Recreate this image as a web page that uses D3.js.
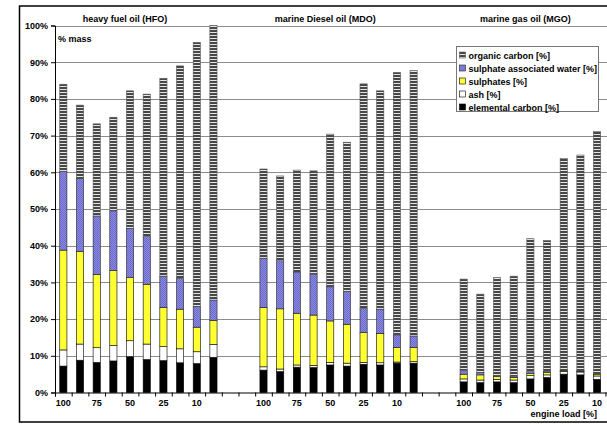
<!DOCTYPE html>
<html>
<head>
<meta charset="utf-8">
<script src="https://cdn.jsdelivr.net/npm/d3@7"></script>
<style>
body { margin: 0; background: #fff; }
text { font-family: Arial, "Liberation Sans", sans-serif; font-weight: bold; font-size: 9px; fill: #000; }
</style>
</head>
<body>
<svg id="chart" width="607" height="425"></svg>
<script>
// one group of bars per fuel, 10 measurements each (two per engine load)
const fuels = ['heavy fuel oil (HFO)', 'marine Diesel oil (MDO)', 'marine gas oil (MGO)'];
const loads = ['100', '100', '75', '75', '50', '50', '25', '25', '10', '10'];
const components = ['elemental carbon [%]', 'ash [%]', 'sulphates [%]', 'sulphate associated water [%]', 'organic carbon [%]'];
const yTicks = [0, 10, 20, 30, 40, 50, 60, 70, 80, 90, 100];

// % mass per component, [HFO, MDO, MGO]; last MGO bar is outside the picture
const elementalCarbon = [
    [7.2, 8.8, 8.2, 8.6, 9.8, 9.0, 8.7, 8.1, 7.9, 9.6],
    [6.1, 5.7, 6.9, 6.8, 7.5, 7.2, 7.7, 7.5, 8.0, 8.0],
    [2.9, 2.7, 2.9, 2.7, 3.7, 4.1, 5.0, 4.8, 3.6],
];
const ash = [
    [4.4, 4.4, 4.0, 4.2, 4.3, 4.2, 3.8, 3.8, 3.2, 3.5],
    [0.9, 0.7, 0.6, 0.6, 0.7, 0.8, 0.5, 0.6, 0.3, 0.4],
    [0.8, 0.7, 0.7, 0.7, 0.9, 0.7, 0.7, 0.8, 0.9],
];
const sulphates = [
    [27.2, 25.2, 20.0, 20.4, 17.2, 16.3, 10.7, 10.8, 6.7, 6.5],
    [16.2, 16.4, 14.1, 13.7, 11.3, 10.6, 8.1, 8.0, 4.0, 3.9],
    [1.3, 1.4, 0.7, 0.7, 0.6, 0.6, 0.2, 0.2, 0.5],
];
const sulphateWater = [
    [21.4, 19.9, 15.9, 16.3, 13.4, 13.0, 8.5, 8.4, 5.6, 5.6],
    [13.4, 13.1, 11.2, 11.2, 9.3, 8.9, 6.6, 6.6, 3.4, 3.1],
    [1.1, 0.7, 0.3, 0.4, 0.5, 0.4, 0.2, 0.2, 0.2],
];
const organicCarbon = [
    [23.8, 20.0, 25.1, 25.5, 37.5, 38.8, 53.9, 57.9, 72.0, 74.8],
    [24.3, 23.1, 27.8, 28.1, 41.6, 40.7, 61.2, 59.5, 71.5, 72.3],
    [24.8, 21.3, 26.7, 27.2, 36.2, 35.6, 57.7, 58.7, 65.9],
];

const series = [elementalCarbon, ash, sulphates, sulphateWater, organicCarbon];
const slotsPerFuel = 12;

// flatten into rows the stack layout can use
const rows = [];
fuels.forEach((f, g) => {
    elementalCarbon[g].forEach((_, i) => {
        const row = {slot: g * slotsPerFuel + i, fuel: g, load: loads[i]};
        components.forEach((c, k) => row[c] = series[k][g][i]);
        rows.push(row);
    });
});

const svg = d3.select('#chart');
const defs = svg.append('defs');

const ocPat = defs.append('pattern').attr('id', 'oc')
    .attr('patternUnits', 'userSpaceOnUse').attr('width', 4).attr('height', 3);
ocPat.append('rect').attr('width', 4).attr('height', 3).attr('fill', '#e6e6e6');
ocPat.append('rect').attr('width', 4).attr('height', 2).attr('fill', '#474747');

const swPat = defs.append('pattern').attr('id', 'sw')
    .attr('patternUnits', 'userSpaceOnUse').attr('width', 2).attr('height', 2);
swPat.append('rect').attr('width', 2).attr('height', 2).attr('fill', '#8a8ae6');
swPat.append('rect').attr('width', 1).attr('height', 1).attr('fill', '#6c6cc8');
swPat.append('rect').attr('x', 1).attr('y', 1).attr('width', 1).attr('height', 1).attr('fill', '#6c6cc8');

const fills = ['#000', '#fff', '#ffff33', 'url(#sw)', 'url(#oc)'];
const strokes = ['#000', '#000', '#000', '#222', '#555'];

const left = 55, step = 16.68, nSlots = 3 * slotsPerFuel;
const x = d3.scaleBand().domain(d3.range(nSlots))
    .range([left, left + nSlots * step]).paddingInner(0.57).paddingOuter(0.285);
const y = d3.scaleLinear().domain([0, 100]).range([392.5, 25.5]);
const slotScale = d3.scaleLinear().domain([0, nSlots]).range([left, left + nSlots * step]);

// frame round the whole chart
svg.append('rect').attr('x', 19.5).attr('y', 6).attr('width', 700).attr('height', 416)
    .attr('fill', 'none').attr('stroke', '#000').attr('stroke-width', 1.5);

// gridlines
svg.append('g').selectAll('line').data(yTicks.filter(d => d > 0)).join('line')
    .attr('x1', left).attr('x2', 607)
    .attr('y1', d => Math.round(y(d)) + 0.5).attr('y2', d => Math.round(y(d)) + 0.5)
    .attr('stroke', '#8c8c8c').attr('stroke-width', 1);

// stacked bars
const stack = d3.stack().keys(components);
const layers = stack(rows);
svg.append('g').selectAll('g').data(layers).join('g')
    .attr('fill', (d, k) => fills[k])
    .attr('stroke', (d, k) => strokes[k])
    .attr('stroke-width', 0.6)
    .selectAll('rect').data(d => d).join('rect')
    .attr('x', d => x(d.data.slot))
    .attr('width', x.bandwidth())
    .attr('y', d => y(d[1]))
    .attr('height', d => Math.max(0, y(d[0]) - y(d[1])));

// y axis
const yAxis = svg.append('g').attr('transform', `translate(${left},0)`)
    .call(d3.axisLeft(y).tickValues(yTicks).tickFormat(d => d + '%').tickSize(4).tickPadding(3));
yAxis.select('.domain').attr('stroke', '#000');
yAxis.selectAll('text').style('font-size', '9px').attr('font-family', null);

// x axis: tick marks between slots, labels under every other bar
const xTicks = svg.append('g').attr('transform', `translate(0,${y(0)})`)
    .call(d3.axisBottom(slotScale).tickValues(d3.range(nSlots + 1)).tickFormat('').tickSize(4));
xTicks.select('.domain').attr('stroke', '#000');
const labelSlots = rows.filter((r, i) => r.slot % 2 === 0).map(r => r.slot);
const xLabels = svg.append('g').attr('transform', `translate(0,${y(0)})`)
    .call(d3.axisBottom(x).tickValues(labelSlots).tickSize(0).tickPadding(7)
        .tickFormat(s => loads[s % slotsPerFuel]));
xLabels.select('.domain').remove();
xLabels.selectAll('text').attr('font-family', null).style('font-size', '9px');

// fuel titles
svg.append('g').selectAll('text').data(fuels).join('text')
    .attr('x', (d, g) => slotScale(g * slotsPerFuel + 4.2))
    .attr('y', 22)
    .attr('text-anchor', 'middle')
    .text(d => d);

svg.append('text').attr('x', 58).attr('y', 42).text('% mass');
svg.append('text').attr('x', 597).attr('y', 417).attr('text-anchor', 'end').text('engine load [%]');

// legend, organic carbon first
const legend = svg.append('g').attr('transform', 'translate(456.5,46.5)');
legend.append('rect').attr('width', 142).attr('height', 65)
    .attr('fill', '#fff').attr('stroke', '#777');
const items = components.map((c, k) => ({c, k})).reverse();
const li = legend.selectAll('g.item').data(items).join('g').attr('class', 'item')
    .attr('transform', (d, i) => `translate(3,${5.5 + i * 13})`);
li.append('rect').attr('width', 6).attr('height', 6)
    .attr('fill', d => fills[d.k]).attr('stroke', d => strokes[d.k]).attr('stroke-width', 0.6);
li.append('text').attr('x', 9).attr('y', 6.5).text(d => d.c);
</script>
</body>
</html>
